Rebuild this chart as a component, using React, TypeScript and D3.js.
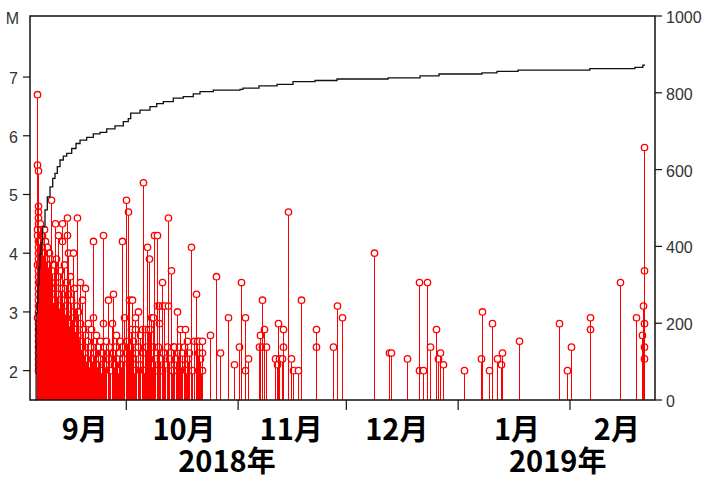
import React from 'react';
import * as d3 from 'd3';

// shocks: [days after 2018-09-01 00:00, magnitude]
const shocks: [number, number][] = [
  // 9/6 main shock cluster
  [5.30, 6.7], [5.32, 4.4], [5.34, 5.5], [5.36, 4.3], [5.38, 5.4], [5.40, 4.2], [5.42, 4.8], [5.44, 4.1],
  [5.46, 4.7], [5.48, 4.0], [5.50, 4.6], [5.52, 3.9], [5.54, 4.5], [5.36, 3.8], [5.40, 3.7], [5.44, 3.6],
  [5.48, 3.5], [5.52, 3.4], [5.38, 3.3], [5.42, 3.2], [5.46, 3.1], [5.50, 3.0], [5.34, 2.9], [5.38, 2.8],
  [5.42, 2.7], [5.46, 2.6], [5.50, 2.5], [5.54, 2.4], [5.40, 2.3], [5.44, 2.2], [5.48, 2.1], [5.52, 2.0],
  [5.80, 4.2], [5.82, 3.8], [5.84, 3.5], [5.86, 3.1], [5.88, 2.7], [5.90, 2.4],
  [6.05, 4.5], [6.07, 4.0], [6.09, 3.6], [6.11, 3.3], [6.13, 2.9], [6.15, 2.5], [6.17, 2.2],
  [6.33, 4.4], [6.35, 4.1], [6.37, 3.7], [6.39, 3.4], [6.41, 3.0], [6.43, 2.6], [6.45, 2.1],
  [6.61, 4.3], [6.63, 3.9], [6.65, 3.5], [6.67, 3.2], [6.69, 2.8], [6.71, 2.3],
  [6.88, 4.0], [6.90, 3.6], [6.92, 3.3], [6.94, 2.9], [6.96, 2.5], [6.98, 2.0],
  [7.16, 4.4], [7.18, 3.8], [7.20, 3.4], [7.22, 3.0], [7.24, 2.6],
  [7.44, 4.2], [7.46, 3.7], [7.48, 3.1], [7.50, 2.7], [7.52, 2.2],
  [7.72, 3.9], [7.74, 3.5], [7.76, 2.9], [7.78, 2.4],
  [8.00, 4.1], [8.02, 3.6], [8.04, 3.2], [8.06, 2.8], [8.08, 2.3],
  [8.27, 3.8], [8.29, 3.4], [8.31, 2.6], [8.33, 2.1],
  [8.55, 4.0], [8.57, 3.5], [8.59, 3.0], [8.61, 2.5],
  // mid September
  [8.85, 3.9], [8.87, 2.8], [9.12, 3.4], [9.26, 4.9], [9.40, 3.7], [9.42, 2.6], [9.68, 3.2],
  [9.96, 3.8], [9.98, 2.4], [10.23, 3.5], [10.32, 4.5], [10.51, 3.9], [10.53, 2.9], [10.79, 3.3],
  [10.93, 4.3], [11.07, 3.6], [11.09, 2.5], [11.34, 3.1], [11.62, 3.7], [11.64, 2.7], [11.90, 3.4],
  [12.04, 4.2], [12.26, 4.5], [12.45, 3.2], [12.47, 2.3], [12.73, 3.8], [13.01, 3.0], [13.28, 3.5],
  [13.30, 2.6], [13.47, 4.6], [13.49, 4.3], [13.75, 4.0], [13.84, 3.3], [14.11, 2.8], [14.39, 3.6],
  [14.41, 2.4], [14.67, 3.2], [14.86, 2.9], [15.14, 4.0], [15.22, 3.0], [15.24, 2.8], [15.50, 3.4],
  [15.78, 2.7], [16.06, 3.1], [16.33, 2.6], [16.41, 4.6], [16.61, 3.0], [16.89, 2.5], [17.17, 2.8],
  [17.30, 3.5], [17.44, 2.4], [17.63, 3.2], [17.80, 2.5], [17.82, 2.0], [18.00, 2.7], [18.27, 2.3],
  [18.60, 3.4], [18.55, 2.6], [18.83, 2.2], [19.11, 2.5], [19.38, 2.8], [19.66, 2.1], [19.94, 2.4],
  [20.21, 2.7], [20.49, 2.2], [20.68, 4.2], [20.85, 2.9], [21.05, 2.3], [21.32, 2.5], [21.60, 2.6],
  [21.88, 2.1], [22.15, 2.4], [22.43, 2.2], [22.71, 2.5], [22.99, 2.0], [23.26, 2.3], [23.62, 4.3],
  [23.64, 2.8], [23.82, 2.4], [24.10, 2.1], [24.37, 2.5], [24.85, 3.2], [24.93, 2.2], [25.20, 2.4],
  [25.48, 2.0], [25.95, 2.8], [26.23, 3.3], [26.31, 2.3], [26.59, 2.1], [26.87, 2.4], [27.14, 2.6],
  [27.42, 2.2], [27.70, 2.0], [27.98, 2.3], [28.25, 2.5], [28.53, 2.1], [28.81, 4.2], [28.83, 2.4],
  [29.09, 2.2], [29.45, 2.9], [29.80, 4.9], [29.92, 2.3],
  // October
  [30.19, 2.5], [30.60, 4.7], [30.83, 3.2], [31.03, 2.4], [31.30, 2.7], [31.50, 3.2], [31.58, 2.2],
  [31.86, 2.5], [32.14, 2.0], [32.50, 2.9], [32.52, 2.7], [32.69, 2.3], [33.16, 3.0], [33.25, 2.4],
  [33.52, 2.1], [33.80, 2.6], [34.27, 2.7], [34.55, 5.2], [34.63, 2.3], [34.91, 2.0], [35.18, 2.7],
  [35.46, 2.4], [35.82, 4.1], [36.10, 2.7], [36.21, 3.9], [36.29, 2.2], [36.57, 2.7], [36.93, 2.9],
  [37.12, 2.1], [37.32, 2.9], [37.40, 2.4], [37.77, 4.3], [37.96, 2.2], [38.37, 4.3], [38.39, 3.1],
  [38.60, 2.0], [38.79, 2.4], [39.07, 3.1], [39.09, 2.8], [39.34, 2.2], [39.76, 3.5], [39.99, 3.1],
  [40.01, 2.0], [40.18, 2.3], [40.45, 3.1], [40.73, 2.1], [41.19, 2.4], [41.47, 3.1], [41.64, 4.6],
  [41.84, 2.2], [42.30, 3.7], [42.67, 2.0], [42.86, 2.4], [43.22, 2.4], [43.24, 2.1], [43.70, 2.2],
  [43.92, 3.0], [44.06, 2.0], [44.33, 2.3], [44.61, 2.4], [44.89, 2.7], [45.17, 2.1], [45.44, 2.3],
  [45.99, 2.4], [46.27, 2.7], [46.55, 2.0], [46.91, 2.5], [47.10, 2.2], [47.46, 2.3], [47.85, 4.1],
  [48.21, 2.0], [48.77, 2.5], [49.24, 3.3], [49.52, 2.5], [49.88, 2.3], [50.16, 2.5], [50.18, 2.0],
  [50.43, 2.2], [50.71, 2.0], [50.99, 2.5], [51.01, 2.3], [51.03, 2.0], [53.29, 2.6], [54.92, 3.6],
  [55.98, 2.3], [58.28, 2.9], [59.94, 2.1], [61.33, 2.4], [61.72, 3.5],
  // November
  [62.77, 2.9], [62.79, 2.0], [63.60, 2.2], [66.87, 2.4], [67.20, 2.6], [67.69, 3.2], [67.71, 2.4],
  [68.26, 2.7], [68.73, 2.4], [71.23, 2.2], [71.70, 2.1], [71.97, 2.8], [72.42, 2.2], [73.08, 2.2],
  [73.36, 2.4], [73.53, 2.7], [74.92, 4.7], [75.58, 2.2], [76.30, 2.0], [77.52, 2.0], [78.35, 3.2],
  [82.59, 2.7], [82.61, 2.4], [87.21, 2.4], [88.49, 3.1], [89.71, 2.9],
  // December
  [98.76, 4.0], [102.92, 2.3], [103.30, 2.3], [107.74, 2.2], [111.24, 3.5], [111.26, 2.0],
  [112.35, 2.0], [113.46, 3.5], [114.20, 2.4], [115.87, 2.7], [116.50, 2.2], [116.97, 2.3],
  [117.72, 2.1],
  // January
  [123.63, 2.0], [128.25, 2.2], [128.53, 3.0], [130.64, 2.0], [131.47, 2.8], [132.69, 2.2],
  [133.80, 2.1], [134.24, 2.3], [138.87, 2.5], [149.93, 2.8], [152.15, 2.0],
  // February
  [153.26, 2.4], [158.63, 2.9], [158.65, 2.7], [166.87, 3.5], [171.31, 2.9], [172.89, 2.6],
  [173.16, 3.1], [173.53, 5.8], [173.55, 3.7], [173.61, 2.8], [173.63, 2.4], [173.65, 2.2],
];

// cumulative number of shocks: [days after 2018-09-01, count]
const cumulative: [number, number][] = [
  [4.97, 0], [5.0, 227], [5.33, 253], [5.52, 300], [5.8, 345], [6.07, 380], [6.35, 410],
  [6.82, 451], [7.46, 495], [8.1, 529], [8.85, 555], [9.6, 577], [10.23, 590], [10.87, 608],
  [11.62, 625], [12.53, 635], [13.48, 642], [14.86, 655], [16.06, 668], [17.17, 677],
  [19.02, 684], [20.85, 693], [22.71, 697], [24.57, 706], [26.87, 714], [29.17, 725],
  [30.55, 733], [31.22, 747], [33.8, 755], [36.57, 764], [38.43, 772], [40.26, 777],
  [43.03, 786], [45.8, 790], [48.57, 797], [50.43, 803], [54.12, 807], [61.52, 809],
  [62.35, 812], [66.79, 818], [71.78, 822], [76.22, 829], [82.31, 832], [88.41, 836],
  [102.55, 839], [111.43, 844], [116.69, 849], [128.6, 852], [132.77, 856], [138.6, 859],
  [158.5, 863], [171.0, 866], [173.2, 872], [173.8, 872],
];

const dayRange = [3.3, 176.57];
const magTicks = [2, 3, 4, 5, 6, 7];
const countTicks = [0, 200, 400, 600, 800, 1000];
const monthNames = ['9月', '10月', '11月', '12月', '1月', '2月'];
const monthLabelDay = [18.5, 46, 75.7, 105, 138.3, 166];
const yearNames = ['2018年', '2019年'];
const yearLabelDay = [57.9, 149.6];

const base = new Date(2018, 8, 1).getTime();
const toDate = (d: number) => new Date(base + d * 864e5);

const W = 702;
const H = 479;
const left = 30, right = 655, top = 16, bottom = 400;
const R = 3.2;

export default function App() {
  const x = d3.scaleTime().domain(dayRange.map(toDate)).range([left, right]);
  const yM = d3.scaleLinear().domain([1.5, 8.04]).range([bottom, top]);
  const yC = d3.scaleLinear().domain([0, 1000]).range([bottom, top]);

  const line = d3.line<[number, number]>()
    .x(d => x(toDate(d[0])))
    .y(d => yC(d[1]))
    .curve(d3.curveStepAfter);

  const px = (d: number) => Math.round(x(toDate(d))) + 0.5;
  const monthTicks = x.ticks(d3.timeMonth.every(1)!);
  const tickFont = { fontFamily: '"Liberation Sans", Arial, sans-serif', fontSize: 16, fill: '#333' };
  const bigFont = { fontFamily: '"Noto Sans CJK JP", sans-serif', fontSize: 29, fontWeight: 700, fill: '#000' };

  return (
    <svg width={W} height={H} style={{ position: 'absolute', left: 0, top: 0, background: '#fff' }}>
      {/* circles first, stems over them so the busy weeks read as solid red */}
      <g>
        {shocks.map((s, i) => (
          <circle key={'o' + i} cx={px(s[0])} cy={yM(s[1])} r={R} fill="#fff" stroke="#ff0000" strokeWidth={1.3} />
        ))}
      </g>
      <g>
        {shocks.map((s, i) => (
          <line key={'s' + i} x1={px(s[0])} x2={px(s[0])} y1={bottom} y2={yM(s[1]) + R} stroke="#ff0000" strokeWidth={1} />
        ))}
      </g>
      <path d={line(cumulative) || ''} fill="none" stroke="#111" strokeWidth={1.3} />
      <rect x={left} y={top} width={right - left} height={bottom - top} fill="none" stroke="#111" strokeWidth={1.5} />

      {magTicks.map(t => (
        <g key={'m' + t}>
          <line x1={left - 7} x2={left} y1={yM(t)} y2={yM(t)} stroke="#111" strokeWidth={1.2} />
          <text x={18} y={yM(t) + 7} textAnchor="end" style={tickFont}>{t}</text>
        </g>
      ))}
      <text x={12.5} y={24} textAnchor="middle" style={tickFont}>M</text>

      {countTicks.map(t => (
        <g key={'c' + t}>
          <line x1={right} x2={right + 7} y1={yC(t)} y2={yC(t)} stroke="#111" strokeWidth={1.2} />
          <text x={666} y={yC(t) + 7} textAnchor="start" style={tickFont}>{t}</text>
        </g>
      ))}

      {monthTicks.map((t, i) => (
        <line key={'t' + i} x1={x(t)} x2={x(t)} y1={bottom} y2={bottom + 10} stroke="#111" strokeWidth={1.2} />
      ))}
      {monthNames.map((m, i) => (
        <text key={m} x={x(toDate(monthLabelDay[i]))} y={440} textAnchor="middle" style={bigFont}>{m}</text>
      ))}
      {yearNames.map((m, i) => (
        <text key={m} x={x(toDate(yearLabelDay[i]))} y={472} textAnchor="middle" style={bigFont}>{m}</text>
      ))}
    </svg>
  );
}
